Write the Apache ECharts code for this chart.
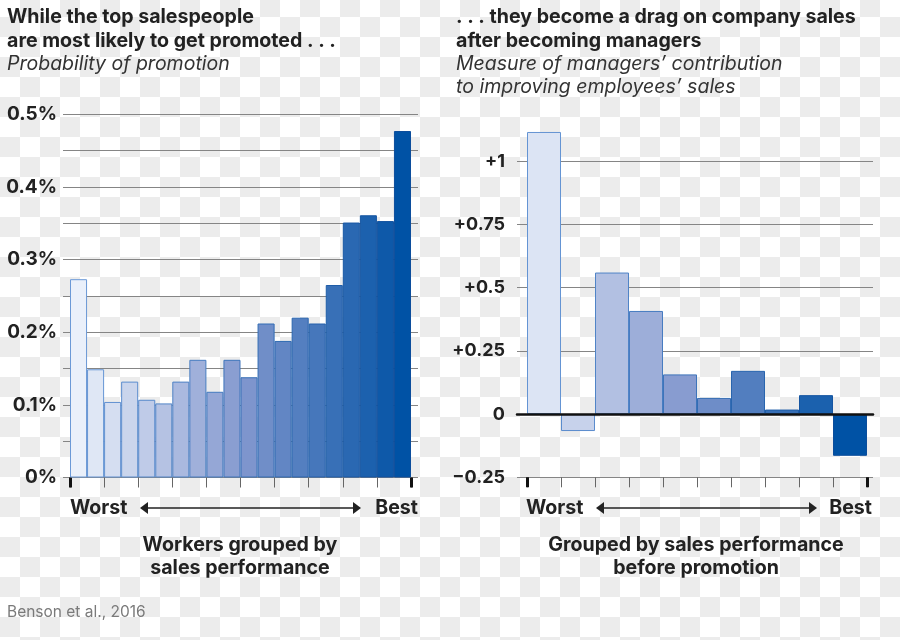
<!DOCTYPE html>
<html><head><meta charset="utf-8">
<script src="https://cdn.jsdelivr.net/npm/echarts@6/dist/echarts.min.js"></script>
<style>
html,body{margin:0;padding:0;}
body{width:900px;height:640px;background-color:#fff;
background-image:conic-gradient(#fff 0 25%, #ececec 0 50%, #fff 0 75%, #ececec 0);
background-size:40px 40px;background-position:0 17px;}
#c{width:900px;height:640px;}
</style></head><body><div id="c"></div>
<script>
// ---- data ----
const leftCategories = ['1','2','3','4','5','6','7','8','9','10','11','12','13','14','15','16','17','18','19','20'];
const leftValues = [0.273,0.149,0.104,0.132,0.107,0.102,0.132,0.162,0.118,0.162,0.138,0.212,0.188,0.220,0.212,0.265,0.351,0.361,0.353,0.477];
const leftTickLabels = ['0%','0.1%','0.2%','0.3%','0.4%','0.5%'];

const rightCategories = ['1','2','3','4','5','6','7','8','9','10'];
const rightValues = [1.116,-0.067,0.560,0.408,0.157,0.064,0.171,0.018,0.075,-0.165];
const rightTickLabels = ['\u22120.25','0','+0.25','+0.5','+0.75','+1'];

// ---- styling helpers ----
function hex(c){return [parseInt(c.slice(1,3),16),parseInt(c.slice(3,5),16),parseInt(c.slice(5,7),16)];}
function mix(a,b,t){const A=hex(a),B=hex(b);return 'rgb('+A.map((v,i)=>Math.round(v+(B[i]-v)*t)).join(',')+')';}
function ramp(t){ return t<0.5 ? mix('#eaf0fa','#8599cf',t/0.5) : mix('#8599cf','#0052a5',(t-0.5)/0.5); }
function border(t){ return mix('#6b99d7','#0b4d9c',t); }

const leftData = leftValues.map((v,i)=>{const t=i/(leftValues.length-1);
  return {value:v,itemStyle:{color:ramp(t),borderColor:border(t),borderWidth:1}};});
const rightData = rightValues.map((v,i)=>{const t=0.07+i*0.93/(rightValues.length-1);
  return {value:v,itemStyle:{color:ramp(t),borderColor:border(t),borderWidth:1}};});

const FONT='Inter';
const GRIDC='#858585';
const hidden={show:false};
function tickAxis(grid,max,interval,color,width){
  return {type:'value',gridIndex:grid,position:'bottom',min:0,max:max,interval:interval,
    axisLine:{show:false,onZero:false},axisLabel:{show:false},splitLine:{show:false},
    axisTick:{show:true,length:10,lineStyle:{color:color,width:width}}};
}

const chart = echarts.init(document.getElementById('c'),null,{renderer:'canvas'});
const txt=(x,y,s,font,align,color)=>({type:'text',x:x,y:y,style:{text:s,font:font,fill:color||'#222',textAlign:align||'left',textVerticalAlign:'middle'}});
const B='bold 19.6px '+FONT, I='italic 19.5px '+FONT;
function arrow(x1,x2,y){
  return [
    {type:'line',shape:{x1:x1+6,y1:y,x2:x2-6,y2:y},style:{stroke:'#222',lineWidth:1.5}},
    {type:'polygon',shape:{points:[[x1,y],[x1+8,y-6],[x1+8,y+6]]},style:{fill:'#222'}},
    {type:'polygon',shape:{points:[[x2,y],[x2-8,y-6],[x2-8,y+6]]},style:{fill:'#222'}}
  ];
}

chart.setOption({
  backgroundColor:'transparent',
  animation:false,
  grid:[
    {left:63,width:355,top:114.3,bottom:162.5,outerBoundsMode:'none'},
    {left:70,width:341,top:114.3,bottom:162.5,outerBoundsMode:'none'},
    {left:517,width:356,top:161.3,bottom:162.7,outerBoundsMode:'none'},
    {left:527,width:340,top:161.3,bottom:162.7,outerBoundsMode:'none'}
  ],
  xAxis:[
    {type:'value',gridIndex:0,min:0,max:1,show:false},
    {type:'category',gridIndex:1,data:leftCategories,show:false},
    tickAxis(1,20,2,'#666',1),
    tickAxis(1,1,1,'#111',3),
    {type:'value',gridIndex:2,min:0,max:1,z:5,axisLine:{show:true,onZero:true,lineStyle:{color:'#111',width:2.5}},
      axisTick:hidden,axisLabel:hidden,splitLine:hidden},
    {type:'category',gridIndex:3,data:rightCategories,show:false},
    tickAxis(3,10,1,'#666',1),
    tickAxis(3,1,1,'#111',3)
  ],
  yAxis:[
    {type:'value',gridIndex:0,min:0,max:0.5,interval:0.1,
      axisLine:hidden,axisTick:hidden,
      axisLabel:{margin:6,color:'#222',fontFamily:FONT,fontWeight:'bold',fontSize:19,
        formatter:v=>leftTickLabels[Math.round(v/0.1)]},
      splitLine:{show:true,lineStyle:{color:GRIDC,width:1}},
      minorTick:{show:false,splitNumber:2},
      minorSplitLine:{show:true,lineStyle:{color:GRIDC,width:1}}},
    {type:'value',gridIndex:1,min:0,max:0.5,show:false},
    {type:'value',gridIndex:2,min:-0.25,max:1,interval:0.25,
      axisLine:hidden,axisTick:hidden,
      axisLabel:{margin:12,color:'#222',fontFamily:FONT,fontWeight:'bold',fontSize:18,
        formatter:v=>rightTickLabels[Math.round((v+0.25)/0.25)]},
      splitLine:{show:true,lineStyle:{color:GRIDC,width:1}}},
    {type:'value',gridIndex:3,min:-0.25,max:1,show:false}
  ],
  series:[
    {type:'bar',xAxisIndex:1,yAxisIndex:1,data:leftData,barCategoryGap:'0%',clip:false},
    {type:'bar',xAxisIndex:5,yAxisIndex:3,data:rightData,barCategoryGap:'0%',clip:false}
  ],
  graphic:[
    txt(7,17,'While the top salespeople',B),
    txt(7,41,'are most likely to get promoted . . .',B),
    txt(7,64,'Probability of promotion',I,'left','#333'),
    txt(456,17,'. . . they become a drag on company sales',B),
    txt(456,41,'after becoming managers',B),
    txt(456,64,'Measure of managers\u2019 contribution',I,'left','#333'),
    txt(456,87,'to improving employees\u2019 sales',I,'left','#333'),
    txt(70,508,'Worst',B),
    txt(418,508,'Best',B,'right'),
    txt(526,508,'Worst',B),
    txt(872,508,'Best',B,'right'),
    ...arrow(140,361,508),
    ...arrow(596,817,508),
    txt(240,545,'Workers grouped by',B,'center'),
    txt(240,568,'sales performance',B,'center'),
    txt(696,545,'Grouped by sales performance',B,'center'),
    txt(696,568,'before promotion',B,'center'),
    txt(7,612,'Benson et al., 2016','15.5px '+FONT,'left','#7a7a7a')
  ]
});
</script></body></html>
